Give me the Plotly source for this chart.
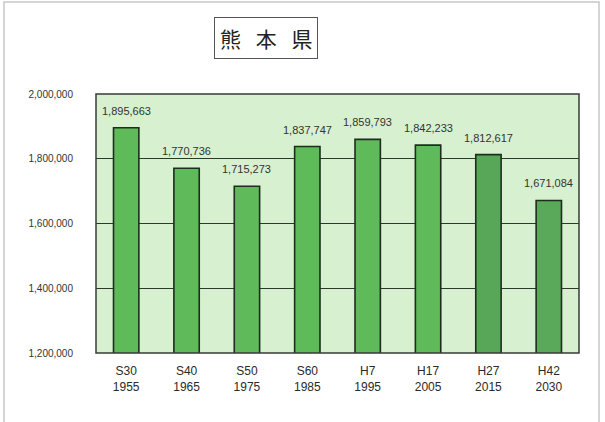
import plotly.graph_objects as go

era_labels = ["S30", "S40", "S50", "S60", "H7", "H17", "H27", "H42"]
years = ["1955", "1965", "1975", "1985", "1995", "2005", "2015", "2030"]
population = [1895663, 1770736, 1715273, 1837747, 1859793, 1842233, 1812617, 1671084]
tick_vals = [1200000, 1400000, 1600000, 1800000, 2000000]
tick_text = ["1,200,000", "1,400,000", "1,600,000", "1,800,000", "2,000,000"]
title_text = "熊\u2002\u2009本\u2002\u2009県"

cats = [f"{e}<br>{y}" for e, y in zip(era_labels, years)]
bar_colors = ["#5fba59"] * 6 + ["#58a658", "#5aa859"]

W, H = 605, 422
L, R, T, B = 96, 26, 94, 69
pw, ph = W - L - R, H - T - B

def px_x(px):
    return (px - L) / pw

def px_y(py):
    return (H - B - py) / ph

fig = go.Figure()
fig.add_trace(go.Bar(
    x=cats, y=population,
    marker=dict(color=bar_colors, line=dict(color="#1c2e1c", width=1.6)),
    width=0.42,
    hoverinfo="skip",
))

annotations = []
for c, v in zip(cats, population):
    annotations.append(dict(
        x=c, y=v, xref="x", yref="y", text=f"{v:,}", showarrow=False,
        yanchor="bottom", yshift=9,
        font=dict(family="Liberation Sans Narrow, Arial", size=11, color="#333333"),
    ))
annotations.append(dict(
    x=px_x(265.5), y=px_y(38), xref="paper", yref="paper", text=title_text,
    showarrow=False, xanchor="center", yanchor="middle",
    font=dict(family="Noto Sans CJK JP", size=21, color="#222222"),
    bordercolor="#555555", borderwidth=1, borderpad=5, bgcolor="white",
))

shapes = [
    dict(type="rect", xref="paper", yref="paper",
         x0=px_x(4), x1=px_x(599), y0=px_y(440), y1=px_y(2),
         line=dict(color="#c8c8c8", width=1.5), layer="below"),
    dict(type="rect", xref="paper", yref="paper",
         x0=0, x1=1, y0=0, y1=1,
         line=dict(color="#3a3a3a", width=1.5)),
]

fig.update_layout(
    width=W, height=H,
    margin=dict(l=L, r=R, t=T, b=B),
    paper_bgcolor="white",
    plot_bgcolor="#d7f0cf",
    showlegend=False,
    annotations=annotations,
    shapes=shapes,
    xaxis=dict(
        showgrid=False, showline=False, ticks="", automargin=False,
        tickfont=dict(family="Liberation Sans Narrow, Arial", size=12, color="#2a2a2a"),
        ticklabelstandoff=9,
    ),
    yaxis=dict(
        range=[1200000, 2000000], automargin=False,
        tickvals=tick_vals, ticktext=tick_text,
        showgrid=True, gridcolor="#2a3a2a", gridwidth=1,
        showline=False, ticks="", zeroline=False,
        tickfont=dict(family="Liberation Sans Narrow, Arial", size=10, color="#333333"),
        ticklabelstandoff=22,
    ),
)

fig.write_html("out.html", config={"displayModeBar": False},
               post_script="document.body.style.margin='0px';")
